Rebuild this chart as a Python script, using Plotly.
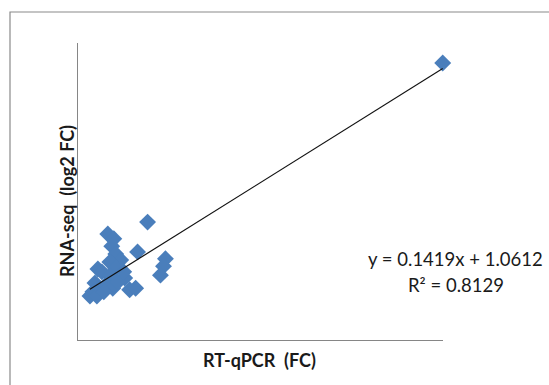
import plotly.graph_objects as go

# RT-qPCR fold change (x) vs RNA-seq log2 FC (y)
rt_qpcr = [39.42, 7.52, 3.22, 3.87, 3.65, 6.44, 4.08, 4.62, 3.44, 2.15,
           9.45, 9.24, 8.91, 5.05, 4.08, 5.58, 6.23, 2.58, 3.44, 1.83,
           1.61, 2.26, 3.01, 3.76, 4.30, 1.29, 2.04, 2.79, 4.94]
rna_seq = [6.79, 2.89, 2.60, 2.48, 2.30, 2.16, 2.11, 1.96, 1.91, 1.74,
           1.99, 1.81, 1.59, 1.52, 1.76, 1.23, 1.27, 1.67, 1.57, 1.40,
           1.18, 1.23, 1.35, 1.27, 1.42, 1.08, 1.08, 1.18, 1.67]

slope = 0.1419
intercept = 1.0612
r_squared = 0.8129

x_title = "RT-qPCR  (FC)"
y_title = "RNA-seq  (log2 FC)"

fit_x = [min(rt_qpcr), max(rt_qpcr)]
fit_y = [slope * v + intercept for v in fit_x]

fig = go.Figure()
fig.add_trace(go.Scatter(
    x=rt_qpcr, y=rna_seq, mode="markers", cliponaxis=False,
    marker=dict(symbol="diamond", size=13, color="#4a7ebb",
                line=dict(width=0)),
    showlegend=False, hoverinfo="x+y"))
fig.add_trace(go.Scatter(
    x=fit_x, y=fit_y, mode="lines",
    line=dict(color="#111111", width=1.2),
    showlegend=False, hoverinfo="skip"))

W, H = 549, 385
L, R, T, B = 78, 443, 43, 340


def px(xp):
    return (xp - L) / (R - L)


def py(yp):
    return (B - yp) / (B - T)


font_family = "Lato, Carlito, Calibri, sans-serif"

fig.update_layout(
    width=W, height=H,
    margin=dict(l=L, r=W - R, t=T, b=H - B),
    paper_bgcolor="white", plot_bgcolor="white",
    font=dict(family=font_family, color="#1a1a1a"),
    xaxis=dict(range=[0, 39.45], showgrid=False, zeroline=False,
               showticklabels=False, ticks="", showline=True,
               linecolor="#868686", linewidth=1.2),
    yaxis=dict(range=[0, 7.28], showgrid=False, zeroline=False,
               showticklabels=False, ticks="", showline=True,
               linecolor="#868686", linewidth=1.2),
    shapes=[dict(type="rect", xref="paper", yref="paper",
                 x0=px(10), x1=px(600), y0=py(420), y1=py(12),
                 line=dict(color="#8a8a8a", width=1.2),
                 fillcolor="rgba(0,0,0,0)", layer="below")],
    annotations=[
        dict(text="<b>%s</b>" % x_title, xref="paper", yref="paper",
             x=px(259), y=py(360), xanchor="center", yanchor="middle",
             showarrow=False, font=dict(size=18)),
        dict(text="<b>%s</b>" % y_title, xref="paper", yref="paper",
             x=px(67), y=py(201), xanchor="center", yanchor="middle",
             textangle=-90, showarrow=False, font=dict(size=18)),
        dict(text="y = %.4fx + %.4f" % (slope, intercept),
             xref="paper", yref="paper",
             x=px(455), y=py(259), xanchor="center", yanchor="middle",
             showarrow=False, font=dict(size=18.5)),
        dict(text="R² = %.4f" % r_squared,
             xref="paper", yref="paper",
             x=px(456), y=py(285), xanchor="center", yanchor="middle",
             showarrow=False, font=dict(size=18.5)),
    ],
)

fig.write_html("out.html")
